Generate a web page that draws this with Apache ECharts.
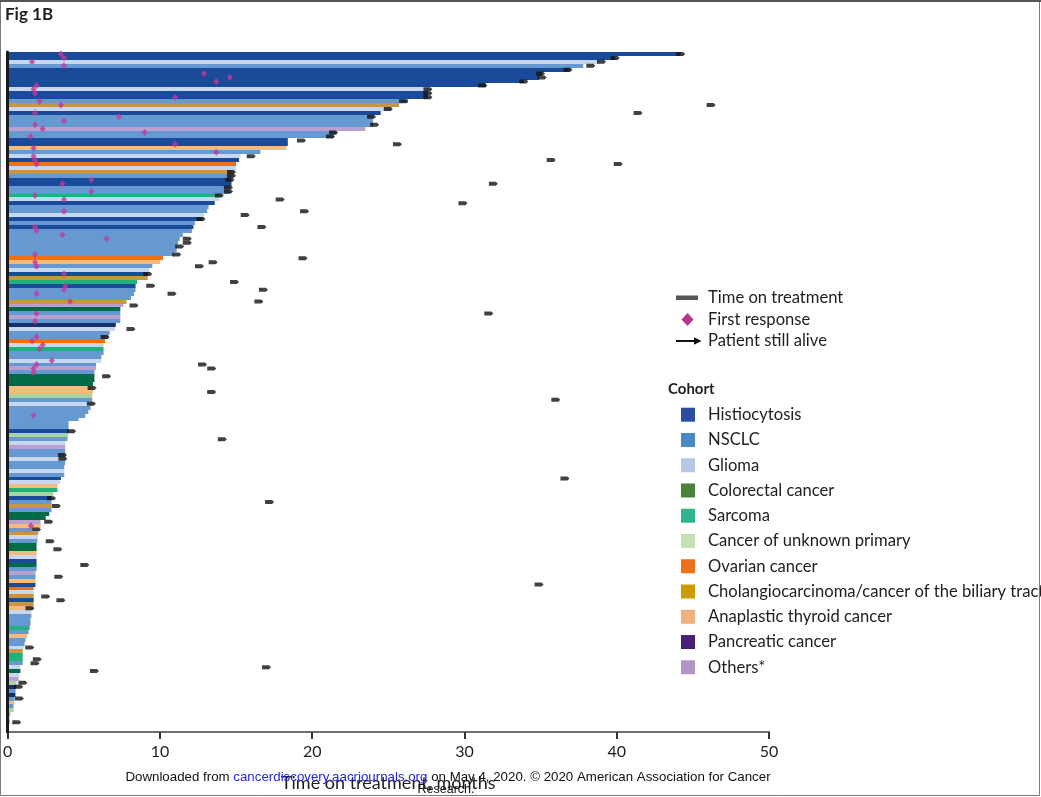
<!DOCTYPE html>
<html><head><meta charset="utf-8">
<script src="https://cdn.jsdelivr.net/npm/echarts@6/dist/echarts.min.js"></script>
<style>html,body{margin:0;padding:0;background:#fff}#c{width:1041px;height:797px}</style>
</head><body><div id="c"></div>
<script>
// ---- data ----
const cohortNames = ['Histiocytosis','NSCLC','Glioma','Colorectal cancer','Sarcoma','Cancer of unknown primary','Ovarian cancer','Cholangiocarcinoma/cancer of the biliary tract','Anaplastic thyroid cancer','Pancreatic cancer','Others*'];
const cohortCodes = ['H','N','G','C','S','U','O','B','A','P','X'];
const barColors = ['#1a4a9a','#6699d2','#c6d7ee','#006b45','#1fb27a','#a8d4a0','#f07010','#c9963f','#f4bb7a','#142e6e','#b9a0d0'];
const legendColors = ['#2a4ea2','#4a88c8','#b4c8e8','#4a8038','#2cb590','#c4e0b4','#ee7018','#cc9c00','#f2b07e','#4a1f78','#b296c8'];
const xTicks = [0,10,20,30,40,50];

const patientCohort = [
 'H','H','G','N','H','H','H','H','H','G',
 'H','H','N','B','G','H','N','N','N','X',
 'N','N','H','H','A','N','G','H','O','G',
 'B','N','H','H','N','N','S','G','H','N',
 'N','G','H','N','H','N','N','N','N','N',
 'N','N','O','A','N','G','H','B','S','H',
 'N','N','N','B','X','C','N','X','N','P',
 'G','N','N','O','G','S','N','N','G','N',
 'X','N','C','C','C','A','A','U','N','G',
 'N','N','N','N','N','N','H','U','N','G',
 'X','N','N','G','N','N','G','N','H','G',
 'A','S','U','H','N','B','N','C','C','X',
 'A','N','B','G','N','C','C','A','G','H',
 'C','N','X','N','A','H','O','G','B','H',
 'B','A','G','N','N','N','S','N','A','N',
 'N','G','B','S','S','N','G','C','G','X',
 'U','P','N','P','N','A','N','U','X','X','X'
];
const treatmentMonths = [
 44.2,39.9,38.8,37.8,36.9,35.1,34.9,33.9,31.4,27.7,
 27.6,27.6,26.3,25.7,25.2,24.5,24.0,24.0,24.0,23.5,
 21.6,21.4,18.4,18.4,18.3,16.6,15.3,15.2,15.0,15.0,
 14.8,14.8,14.7,14.7,14.6,14.6,14.0,13.9,13.6,13.2,
 13.1,12.9,12.8,12.3,12.2,12.1,11.5,11.3,11.2,11.1,
 11.1,10.9,10.2,10.0,9.5,9.3,9.2,9.2,8.5,8.4,
 8.4,8.3,8.1,7.8,7.6,7.4,7.4,7.4,7.4,7.1,
 7.05,6.7,6.6,6.4,6.3,6.3,6.3,6.15,6.15,5.8,
 5.8,5.7,5.7,5.7,5.6,5.6,5.6,5.55,5.55,5.5,
 5.45,5.3,5.1,4.65,4.0,4.0,4.0,3.96,3.93,3.78,
 3.78,3.78,3.78,3.78,3.78,3.72,3.72,3.72,3.5,3.45,
 3.27,3.27,3.0,2.9,2.88,2.88,2.88,2.73,2.5,2.16,
 2.16,1.6,2.0,2.0,1.95,1.9,1.9,1.9,1.9,1.9,
 1.9,1.9,1.83,1.83,1.83,1.83,1.71,1.71,1.71,1.71,
 1.71,1.65,1.56,1.56,1.5,1.5,1.44,1.38,1.29,1.17,
 1.11,1.05,0.99,0.99,0.99,0.99,0.84,0.84,0.78,0.72,
 0.6,0.56,0.52,0.51,0.45,0.45,0.39,0.39,0.18,0.12,0.15
];
const responseMonths = [
 3.5,3.7,1.6,3.7,null,12.9,14.6,13.7,1.9,1.7,
 1.8,11.0,2.1,3.5,null,1.8,7.3,3.7,1.8,2.3,
 9.0,1.5,null,11.0,1.7,13.7,1.7,1.8,1.9,null,
 null,null,5.5,3.6,null,5.5,1.8,3.7,null,null,
 3.7,null,null,null,1.8,1.9,3.6,6.5,null,null,
 null,1.8,null,1.8,1.9,null,3.7,null,null,3.8,
 3.7,1.9,null,4.1,null,null,1.9,null,1.8,null,
 null,null,1.9,1.6,2.3,2.1,null,null,2.9,1.9,
 1.7,1.7,null,null,null,null,null,null,null,null,
 null,null,1.7,null,null,null,null,null,null,null,
 null,null,null,null,null,null,null,null,null,null,
 null,null,null,null,null,null,null,null,null,null,
 1.53,null,null,null,null,null,null,null,null,null,
 null,null,null,null,null,null,null,null,null,null,
 null,null,null,null,null,null,null,null,null,null,
 null,null,null,null,null,null,null,null,null,null,
 null,null,null,null,null,null,null,null,null,null,null
];
const aliveMonths = [
 44.2,39.9,39.0,38.3,36.8,35.0,35.1,33.9,31.2,27.6,
 27.6,27.6,26.0,46.2,25.0,41.4,23.9,null,24.1,null,
 21.4,21.2,19.3,25.6,null,null,16.0,35.7,40.1,null,
 14.7,14.7,14.6,31.9,14.5,14.5,13.9,17.9,29.9,null,
 19.5,15.6,12.7,null,16.7,null,null,11.8,11.8,11.3,
 null,11.1,19.4,13.5,12.6,null,9.2,null,14.9,9.4,
 16.8,10.8,null,16.5,8.3,null,31.6,null,null,null,
 8.1,null,6.4,null,null,null,null,null,null,12.8,
 13.4,null,6.5,null,null,5.55,13.4,null,36.0,5.5,
 null,null,null,null,null,null,4.2,null,14.1,null,
 null,null,3.6,3.63,null,null,null,null,36.6,null,
 null,null,null,2.88,17.2,3.2,null,null,null,2.7,
 null,1.9,null,null,2.8,null,3.3,null,null,null,
 5.07,null,null,3.36,null,34.9,null,null,2.5,3.5,
 null,1.47,null,null,null,null,null,null,null,null,
 null,1.45,null,null,1.95,1.8,17.0,5.7,null,null,
 1.0,0.72,null,null,0.77,null,null,null,null,null,0.6
];

// ---- build ----
const barData = treatmentMonths.map((m, i) => [m, i, cohortCodes.indexOf(patientCohort[i])]);
const respData = [];
responseMonths.forEach((m, i) => { if (m != null) respData.push([m, i]); });
const aliveData = [];
aliveMonths.forEach((m, i) => { if (m != null) aliveData.push([m, i]); });

const FONT = 'Lato, "Open Sans", sans-serif';
const TXT = '#1e1e1e';
const WM = '"Liberation Sans", Arial, sans-serif';

function txt(x, y, s, size, weight) {
  return {
    type: 'text', z: 20,
    style: {
      text: s, x: x, y: y,
      font: (weight || 'normal') + ' ' + size + 'px ' + FONT,
      fill: TXT, textAlign: 'left', textVerticalAlign: 'middle', align: 'left', verticalAlign: 'middle'
    }
  };
}

const graphics = [];
// frame
graphics.push({type:'rect', shape:{x:0.5,y:0.5,width:1039,height:795}, style:{fill:'none', stroke:'#7a7a7a', lineWidth:1}, z:30});
graphics.push({type:'line', shape:{x1:0,y1:1,x2:1041,y2:1}, style:{stroke:'#555', lineWidth:2}, z:30});
// title
graphics.push(txt(5, 15, 'Fig 1B', 17, 'bold'));
// key legend
graphics.push({type:'rect', shape:{x:676, y:295.5, width:22, height:4.5}, style:{fill:'#555'}, z:20});
graphics.push(txt(708, 297.5, 'Time on treatment', 16.6));
graphics.push({type:'polygon', shape:{points:[[687.5,313],[693.5,319.5],[687.5,326],[681.5,319.5]]}, style:{fill:'#b8358f'}, z:20});
graphics.push(txt(708, 319.5, 'First response', 16.6));
graphics.push({type:'line', shape:{x1:676,y1:341,x2:696,y2:341}, style:{stroke:'#111', lineWidth:2}, z:20});
graphics.push({type:'polygon', shape:{points:[[694,337.2],[701.5,341],[694,344.8]]}, style:{fill:'#111'}, z:20});
graphics.push(txt(708, 341, 'Patient still alive', 16.6));
// cohort legend
graphics.push(txt(668, 389, 'Cohort', 15, 'bold'));
cohortNames.forEach((n, k) => {
  const y = 414.7 + k * 25.26;
  graphics.push({type:'rect', shape:{x:681, y:y - 7, width:14, height:14}, style:{fill:legendColors[k]}, z:20});
  graphics.push(txt(708, y, n, 16.6));
});
// watermark
graphics.push({
  type:'text', z:25,
  style:{
    text:'{a|Downloaded from }{b|cancerdiscovery.aacrjournals.org}{a| on May 4, 2020. © 2020 American Association for Cancer}',
    x:448, y:777, textAlign:'center', textVerticalAlign:'middle', align:'center', verticalAlign:'middle',
    font:'13.3px ' + WM, fill:'#111',
    rich:{a:{fill:'#111', font:'13.3px ' + WM}, b:{fill:'#2424e6', font:'13.3px ' + WM}}
  }
});
graphics.push({
  type:'text', z:25,
  style:{text:'Research.', x:446, y:790, textAlign:'center', textVerticalAlign:'middle', align:'center', verticalAlign:'middle',
    font:'12.5px ' + WM, fill:'#111'}
});

const chart = echarts.init(document.getElementById('c'), null, {renderer:'canvas'});
chart.setOption({
  animation: false,
  backgroundColor: '#fff',
  grid: {left:5, right:272, top:52, bottom:58, containLabel:false},
  xAxis: {
    type:'value', min:xTicks[0], max:xTicks[xTicks.length-1], interval:10, position:'bottom',
    axisLine:{show:true, onZero:false, lineStyle:{color:'#6e6e6e', width:2}},
    axisTick:{show:true, length:7, lineStyle:{color:'#333', width:2}},
    axisLabel:{fontSize:16, color:TXT, margin:12, fontFamily:FONT},
    splitLine:{show:false},
    name:'Time on treatment, months', nameLocation:'middle', nameGap:42,
    nameTextStyle:{fontSize:18, color:TXT, fontFamily:FONT}
  },
  yAxis: {
    type:'value', inverse:true, min:-0.5, max:172.5, z:6,
    axisLine:{show:true, onZero:false, lineStyle:{color:'#1a1a1a', width:3}},
    axisTick:{show:false}, axisLabel:{show:false}, splitLine:{show:false}
  },
  series: [
    {
      type:'custom', name:'Time on treatment', data:barData, encode:{x:0, y:1}, z:2,
      renderItem: function (params, api) {
        const row = api.value(1);
        const p0 = api.coord([0, row]);
        const p1 = api.coord([api.value(0), row]);
        const h = api.size([0, 1])[1];
        const yTop = Math.round(p0[1] - h / 2);
        const yBot = Math.round(p0[1] + h / 2);
        return {type:'rect', shape:{x:p0[0], y:yTop, width:p1[0] - p0[0], height:yBot - yTop},
          style:{fill: barColors[api.value(2)]}};
      }
    },
    {
      type:'scatter', name:'First response', data:respData, symbol:'diamond', symbolSize:[6,7],
      itemStyle:{color:'#c2389a'}, z:4
    },
    {
      type:'scatter', name:'Patient still alive', data:aliveData,
      symbol:'path://M0,0 L14,0 L18,2.5 L14,5 L0,5 Z', symbolSize:[9,4],
      itemStyle:{color:'#111'}, z:5
    }
  ],
  graphic: graphics
});
</script></body></html>
